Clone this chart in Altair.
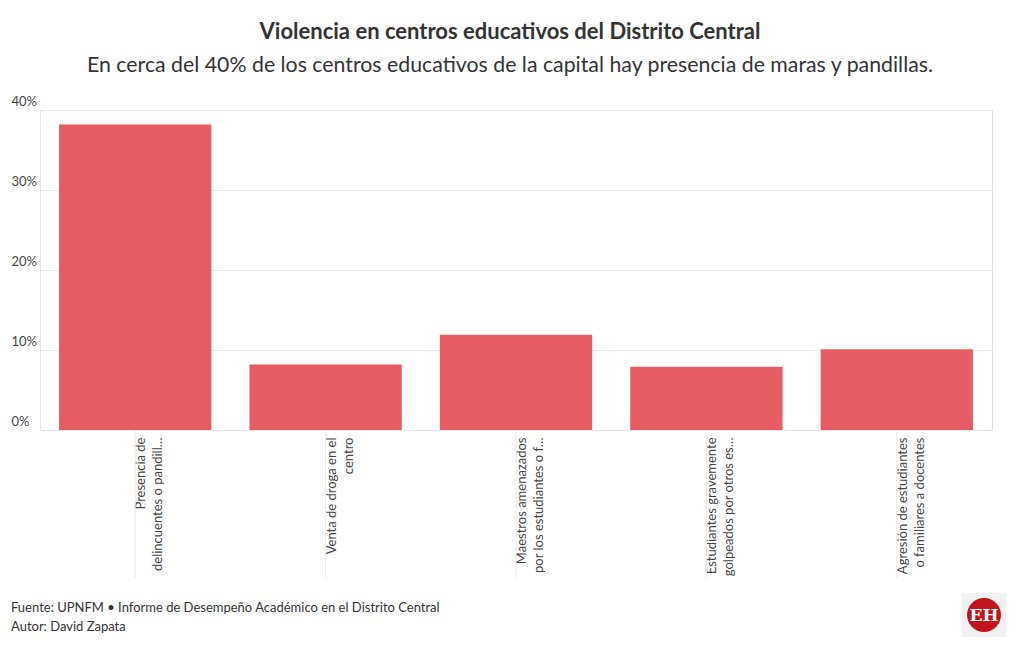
import altair as alt
import pandas as pd

# Data
categories = [
    "Presencia de|delincuentes o pandill…",
    "Venta de droga en el|centro",
    "Maestros amenazados|por los estudiantes o f…",
    "Estudiantes gravemente|golpeados por otros es…",
    "Agresión de estudiantes|o familiares a docentes",
]
values = [0.382, 0.082, 0.119, 0.079, 0.101]
y_ticks = [0, 0.1, 0.2, 0.3, 0.4]

title_text = "Violencia en centros educativos del Distrito Central"
subtitle_text = "En cerca del 40% de los centros educativos de la capital hay presencia de maras y pandillas."
footer_source = ["Fuente: UPNFM • Informe de Desempeño Académico en el Distrito Central"]
footer_author = ["Autor: David Zapata"]
logo_text = ["EH"]

FONT = "Lato"
W, H = 952, 320

df = pd.DataFrame({"cat": categories, "val": values})

x_enc = alt.X(
    "cat:N",
    sort=categories,
    scale=alt.Scale(paddingInner=0.2, paddingOuter=0.1),
    axis=alt.Axis(
        title=None,
        labelAngle=270,
        labelAlign="right",
        labelBaseline="top",
        labelExpr="split(datum.label, '|')",
        labelLineHeight=17,
        labelFontSize=13,
        labelColor="#444444",
        labelFont=FONT,
        labelPadding=7,
        ticks=False,
        tickSize=0,
        domainColor="#e6e6e6",
        grid=False,
        labelLimit=200,
    ),
)

bars = alt.Chart(df).mark_bar(color="#E65C64").encode(
    x=x_enc,
    y=alt.Y(
        "val:Q",
        scale=alt.Scale(domain=[0, 0.4], nice=False),
        axis=alt.Axis(
            title=None,
            values=y_ticks,
            format=".0%",
            labelAlign="left",
            labelBaseline="bottom",
            labelPadding=29,
            labelOffset=-2,
            labelFontSize=13,
            labelColor="#444444",
            labelFont=FONT,
            ticks=False,
            tickSize=0,
            domainColor="#e6e6e6",
            gridColor="#ececec",
        ),
    ),
)

rules = alt.Chart(df).mark_rule(color="#e8e8e8", strokeWidth=1).encode(
    x=alt.X("cat:N", sort=categories),
    y=alt.value(H),
    y2=alt.value(H + 148),
)

src = alt.Chart(pd.DataFrame({"t": footer_source})).mark_text(
    align="left", baseline="middle", font=FONT, fontSize=13, color="#333333"
).encode(text="t:N", x=alt.value(-29), y=alt.value(H + 178))

aut = alt.Chart(pd.DataFrame({"t": footer_author})).mark_text(
    align="left", baseline="middle", font=FONT, fontSize=13, color="#333333"
).encode(text="t:N", x=alt.value(-29), y=alt.value(H + 197))

logo_df = pd.DataFrame({"t": logo_text})
logo_bg = alt.Chart(logo_df).mark_square(
    size=44 * 44, color="#f1f1f1", opacity=1
).encode(x=alt.value(944), y=alt.value(H + 185))
logo_circle = alt.Chart(logo_df).mark_circle(
    size=1150, color="#c2141c", opacity=1
).encode(x=alt.value(944), y=alt.value(H + 185))
logo_txt = alt.Chart(logo_df).mark_text(
    font="DejaVu Serif", fontSize=17, fontWeight="bold", color="white",
    align="center", baseline="middle",
).encode(text="t:N", x=alt.value(944), y=alt.value(H + 186))

chart = alt.layer(rules, bars, src, aut, logo_bg, logo_circle, logo_txt).properties(
    width=W,
    height=H,
    autosize=alt.AutoSizeParams(type="none"),
    padding={"left": 32, "top": 102, "right": 20, "bottom": 218},
    title=alt.TitleParams(
        text=title_text,
        subtitle=subtitle_text,
        anchor="middle",
        frame="group",
        dx=-6,
        offset=18,
        font=FONT,
        fontSize=22,
        fontWeight="bold",
        color="#333333",
        subtitleFont=FONT,
        subtitleFontSize=21.3,
        subtitleColor="#333333",
        subtitlePadding=11,
    ),
).configure_view(stroke=None).configure(background="white")

chart.save("out.html", embed_options={"renderer": "svg", "actions": False})
